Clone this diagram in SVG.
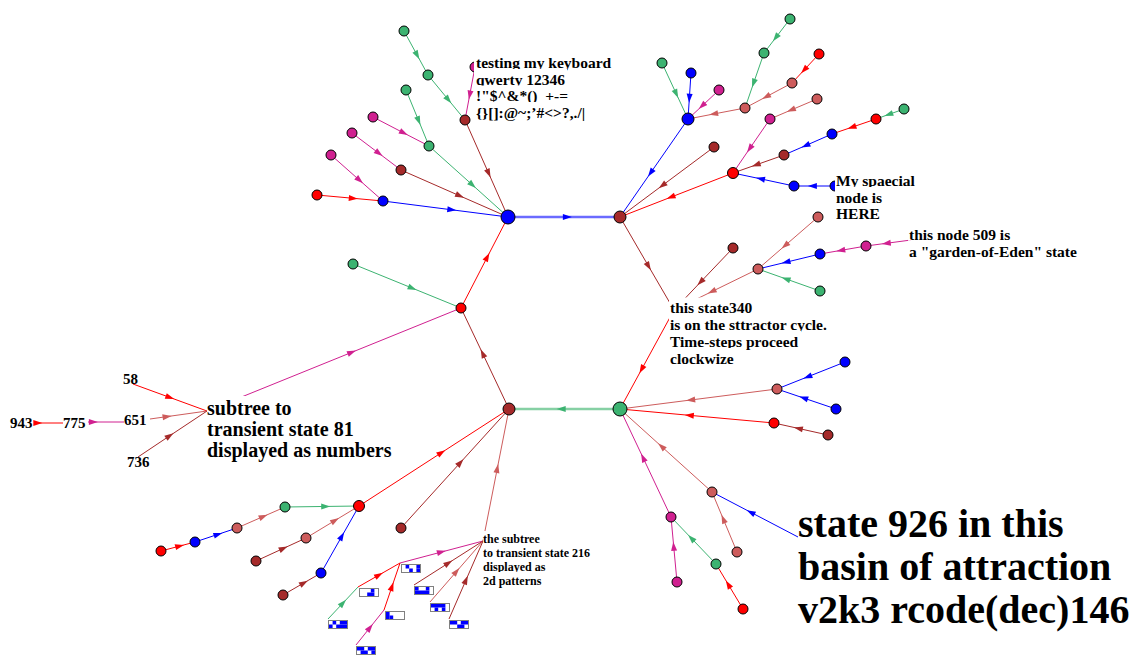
<svg xmlns="http://www.w3.org/2000/svg" width="1135" height="655" viewBox="0 0 1135 655">
<style>
.e{fill:none;stroke-width:1}
.cb{stroke:#0000ff;marker-mid:url(#mb)}
.cr{stroke:#ff0000;marker-mid:url(#mr)}
.cw{stroke:#a52a2a;marker-mid:url(#mw)}
.cg{stroke:#3cb371;marker-mid:url(#mg)}
.cp{stroke:#d02090;marker-mid:url(#mp)}
.ci{stroke:#cd5c5c;marker-mid:url(#mi)}
.hb{stroke:#6b6bff;stroke-width:2.5;marker-mid:url(#mb)}
.hg{stroke:#86d0a4;stroke-width:2.5;marker-mid:url(#mg)}
.n{stroke:#000;stroke-width:1}
.fb{fill:#0000ff}.fr{fill:#ff0000}.fw{fill:#a52a2a}.fg{fill:#3cb371}.fp{fill:#d02090}.fi{fill:#cd5c5c}
.t{font-family:"Liberation Serif","Times New Roman",serif;font-weight:bold;fill:#000}
.m{font-size:15.5px}.s{font-size:12px}.l{font-size:20px}.x{font-size:40px}.k{font-size:15px}
.bg{fill:#fff}
.pb{fill:#fff;stroke:#808080;stroke-width:1}
.pc{fill:#0000ff}
</style>
<defs>
<marker id="mb" viewBox="-5 -4 10 8" markerWidth="10" markerHeight="8" markerUnits="userSpaceOnUse" orient="auto"><path d="M-4.5,-3L4.5,0L-4.5,3z" fill="#0000ff"/></marker>
<marker id="mr" viewBox="-5 -4 10 8" markerWidth="10" markerHeight="8" markerUnits="userSpaceOnUse" orient="auto"><path d="M-4.5,-3L4.5,0L-4.5,3z" fill="#ff0000"/></marker>
<marker id="mw" viewBox="-5 -4 10 8" markerWidth="10" markerHeight="8" markerUnits="userSpaceOnUse" orient="auto"><path d="M-4.5,-3L4.5,0L-4.5,3z" fill="#a52a2a"/></marker>
<marker id="mg" viewBox="-5 -4 10 8" markerWidth="10" markerHeight="8" markerUnits="userSpaceOnUse" orient="auto"><path d="M-4.5,-3L4.5,0L-4.5,3z" fill="#3cb371"/></marker>
<marker id="mp" viewBox="-5 -4 10 8" markerWidth="10" markerHeight="8" markerUnits="userSpaceOnUse" orient="auto"><path d="M-4.5,-3L4.5,0L-4.5,3z" fill="#d02090"/></marker>
<marker id="mi" viewBox="-5 -4 10 8" markerWidth="10" markerHeight="8" markerUnits="userSpaceOnUse" orient="auto"><path d="M-4.5,-3L4.5,0L-4.5,3z" fill="#cd5c5c"/></marker>
</defs>
<rect width="1135" height="655" fill="#fff"/>
<g id="connectors">
<!-- attractor cycle -->
<path class="e hb" d="M508,217L567.4,217L620,217"/>
<path class="e cw" d="M620,217L648.6,266.3L674,310"/>
<path class="e cr" d="M674,310L641.6,369.4L620,409"/>
<path class="e hg" d="M620,409L561.2,409L509,409"/>
<path class="e cw" d="M509,409L482.6,353.4L461,308"/>
<path class="e cr" d="M461,308L487.3,257L508,217"/>
<!-- tree A -->
<path class="e cg" d="M404,31L417.2,55.2L428,75"/>
<path class="e cg" d="M428,75L448.4,99.8L465,120"/>
<path class="e cw" d="M465,120L488.7,173.4L508,217"/>
<path class="e cp" d="M475,67L469.7,95.1L465,120"/>
<path class="e cg" d="M406,90L418.7,120.8L429,146"/>
<path class="e cp" d="M373,117L403.8,133L429,146"/>
<path class="e cg" d="M429,146L472.5,185L508,217"/>
<path class="e cp" d="M352,133L379,153.4L401,170"/>
<path class="e cw" d="M401,170L459.9,195.9L508,217"/>
<path class="e cp" d="M331,155L359.6,180.3L383,201"/>
<path class="e cr" d="M317,195L353.3,198.3L383,201"/>
<path class="e cb" d="M383,201L451.8,209.8L508,217"/>
<!-- tree B -->
<path class="e cb" d="M688,119L650.6,172.9L620,217"/>
<path class="e cg" d="M662,63L676.3,93.8L688,119"/>
<path class="e cb" d="M691,73L689.35,98.3L688,119"/>
<path class="e cp" d="M719,90L702,106L688,119"/>
<path class="e ci" d="M745,108L713.6,114L688,119"/>
<path class="e cg" d="M790,19L775.7,37.7L764,53"/>
<path class="e cg" d="M764,53L753.5,83.3L745,108"/>
<path class="e cr" d="M819,54L804.1,70L792,83"/>
<path class="e ci" d="M792,83L766.1,96.8L745,108"/>
<path class="e cw" d="M714,147L662.3,185.5L620,217"/>
<path class="e cr" d="M733,173L670.8,197.2L620,217"/>
<path class="e cp" d="M770,119L749.6,148.7L733,173"/>
<path class="e ci" d="M817,99L791.1,110L770,119"/>
<path class="e cw" d="M784,155L756,164.9L733,173"/>
<path class="e cb" d="M832,134L805.6,145.6L784,155"/>
<path class="e cr" d="M876,119L851.8,127.25L832,134"/>
<path class="e cg" d="M904,109L888.6,114.5L876,119"/>
<path class="e cb" d="M794,186L760.4,178.8L733,173"/>
<path class="e cb" d="M835,186L812.4,186L794,186"/>
<!-- tree C -->
<path class="e ci" d="M818,217L785,245.6L758,269"/>
<path class="e ci" d="M758,269L711.8,291.6L674,310"/>
<path class="e cw" d="M733,248L700.5,282.1L674,310"/>
<path class="e cb" d="M820,254L785.9,262.25L758,269"/>
<path class="e cp" d="M866,246L840.7,250.4L820,254"/>
<path class="e cp" d="M911,240L886.25,243.3L866,246"/>
<path class="e cg" d="M820,291L785.9,278.9L758,269"/>
<!-- tree D -->
<path class="e ci" d="M777,389L690.65,400L620,409"/>
<path class="e cb" d="M845,362L807.6,376.85L777,389"/>
<path class="e cb" d="M836,409L803.55,398L777,389"/>
<path class="e cr" d="M774,423L689.3,415.3L620,409"/>
<path class="e cw" d="M828,435L798.3,428.4L774,423"/>
<path class="e ci" d="M712,492L661.4,446.35L620,409"/>
<path class="e cb" d="M798,537L750.7,512.25L712,492"/>
<path class="e ci" d="M737,552L723.25,519L712,492"/>
<path class="e cp" d="M671,517L643,457.6L620,409"/>
<path class="e cp" d="M677,582L673.7,546.25L671,517"/>
<path class="e cg" d="M716,564L691.25,538.15L671,517"/>
<path class="e cr" d="M743,609L728.15,584.25L716,564"/>
<!-- tree E -->
<path class="e cr" d="M359,506L441.5,452.65L509,409"/>
<path class="e cg" d="M285,507L325.7,506.45L359,506"/>
<path class="e ci" d="M237,528L263.4,516.45L285,507"/>
<path class="e cb" d="M195,542L218.1,534.3L237,528"/>
<path class="e cr" d="M161,551L179.7,546.05L195,542"/>
<path class="e ci" d="M306,538L335.15,520.4L359,506"/>
<path class="e cw" d="M256,561L283.5,548.35L306,538"/>
<path class="e cb" d="M321,573L341.9,536.15L359,506"/>
<path class="e cw" d="M283,595L303.9,582.9L321,573"/>
<path class="e cw" d="M401,528L460.4,462.55L509,409"/>
<path class="e ci" d="M483,541L497.3,468.4L509,409"/>
<!-- pattern subtree -->
<path class="e cp" d="M400,563L441.5,552L483,541"/>
<path class="e cr" d="M358,587L379,575L400,563"/>
<path class="e cg" d="M328,619L343,603L358,587"/>
<path class="e cr" d="M384,610L392,586.5L400,563"/>
<path class="e cp" d="M356,645L370,627.5L384,610"/>
<path class="e cw" d="M414,585L448.5,563L483,541"/>
<path class="e ci" d="M430,602L456.5,571.5L483,541"/>
<path class="e cw" d="M449,619L466,580L483,541"/>
<!-- tree F -->
<path class="e cg" d="M353,264L412.4,288.2L461,308"/>
<path class="e cp" d="M207,411L351.8,352.3L461,308"/>
<!-- numbers subtree -->
<path class="e cr" d="M133,384L170,397.5L207,411"/>
<path class="e ci" d="M150,419L167.1,416.6L207,411"/>
<path class="e cw" d="M138,457L169.7,435.8L207,411"/>
<path class="e cp" d="M88,422L93.4,422L124,422"/>
<path class="e cr" d="M35,423L37.8,423L63,423"/>
</g>
<!-- attractor nodes -->
<g id="n-A"><circle class="n fb" cx="508" cy="217" r="7"/></g>
<g id="n-B"><circle class="n fw" cx="620" cy="217" r="6"/></g>
<g id="n-D"><circle class="n fg" cx="620" cy="409" r="7"/></g>
<g id="n-E"><circle class="n fw" cx="509" cy="409" r="6"/></g>
<g id="n-F"><circle class="n fr" cx="461" cy="308" r="5"/></g>
<!-- tree A nodes -->
<g id="n-a1"><circle class="n fg" cx="404" cy="31" r="5"/></g>
<g id="n-a2"><circle class="n fg" cx="428" cy="75" r="5"/></g>
<g id="n-a3"><circle class="n fw" cx="465" cy="120" r="5"/></g>
<g id="n-a4"><circle class="n fp" cx="475" cy="67" r="5"/></g>
<g id="n-a5"><circle class="n fg" cx="406" cy="90" r="5"/></g>
<g id="n-a6"><circle class="n fg" cx="429" cy="146" r="5"/></g>
<g id="n-a7"><circle class="n fp" cx="373" cy="117" r="5"/></g>
<g id="n-a8"><circle class="n fp" cx="352" cy="133" r="5"/></g>
<g id="n-a9"><circle class="n fw" cx="401" cy="170" r="5"/></g>
<g id="n-a10"><circle class="n fp" cx="331" cy="155" r="5"/></g>
<g id="n-a11"><circle class="n fr" cx="317" cy="195" r="5"/></g>
<g id="n-a12"><circle class="n fb" cx="383" cy="201" r="5"/></g>
<!-- tree B nodes -->
<g id="n-b1"><circle class="n fb" cx="688" cy="119" r="6"/></g>
<g id="n-b2"><circle class="n fg" cx="662" cy="63" r="5"/></g>
<g id="n-b3"><circle class="n fb" cx="691" cy="73" r="5"/></g>
<g id="n-b4"><circle class="n fp" cx="719" cy="90" r="5"/></g>
<g id="n-b5"><circle class="n fi" cx="745" cy="108" r="5"/></g>
<g id="n-b6"><circle class="n fg" cx="790" cy="19" r="5"/></g>
<g id="n-b7"><circle class="n fg" cx="764" cy="53" r="5"/></g>
<g id="n-b8"><circle class="n fr" cx="819" cy="54" r="5"/></g>
<g id="n-b9"><circle class="n fi" cx="792" cy="83" r="5"/></g>
<g id="n-b10"><circle class="n fw" cx="714" cy="147" r="5"/></g>
<g id="n-b11"><circle class="n fr" cx="733" cy="173" r="5.5"/></g>
<g id="n-b12"><circle class="n fp" cx="770" cy="119" r="5"/></g>
<g id="n-b13"><circle class="n fi" cx="817" cy="99" r="5"/></g>
<g id="n-b14"><circle class="n fw" cx="784" cy="155" r="5"/></g>
<g id="n-b15"><circle class="n fb" cx="832" cy="134" r="5"/></g>
<g id="n-b16"><circle class="n fr" cx="876" cy="119" r="5"/></g>
<g id="n-b17"><circle class="n fg" cx="904" cy="109" r="5"/></g>
<g id="n-b18"><circle class="n fb" cx="794" cy="186" r="5"/></g>
<g id="n-b19"><circle class="n fb" cx="835" cy="186" r="5"/></g>
<!-- tree C nodes -->
<g id="n-c1"><circle class="n fi" cx="818" cy="217" r="5"/></g>
<g id="n-c2"><circle class="n fi" cx="758" cy="269" r="5"/></g>
<g id="n-c3"><circle class="n fw" cx="733" cy="248" r="5"/></g>
<g id="n-c4"><circle class="n fb" cx="820" cy="254" r="5"/></g>
<g id="n-c5"><circle class="n fp" cx="866" cy="246" r="5"/></g>
<g id="n-c7"><circle class="n fg" cx="820" cy="291" r="5"/></g>
<!-- tree D nodes -->
<g id="n-d1"><circle class="n fi" cx="777" cy="389" r="5"/></g>
<g id="n-d2"><circle class="n fb" cx="845" cy="362" r="5"/></g>
<g id="n-d3"><circle class="n fb" cx="836" cy="409" r="5"/></g>
<g id="n-d4"><circle class="n fr" cx="774" cy="423" r="5"/></g>
<g id="n-d5"><circle class="n fw" cx="828" cy="435" r="5"/></g>
<g id="n-d6"><circle class="n fi" cx="712" cy="492" r="5"/></g>
<g id="n-d8"><circle class="n fi" cx="737" cy="552" r="5"/></g>
<g id="n-d9"><circle class="n fp" cx="671" cy="517" r="5"/></g>
<g id="n-d10"><circle class="n fp" cx="677" cy="582" r="5"/></g>
<g id="n-d11"><circle class="n fg" cx="716" cy="564" r="5"/></g>
<g id="n-d12"><circle class="n fr" cx="743" cy="609" r="5"/></g>
<!-- tree E nodes -->
<g id="n-e1"><circle class="n fr" cx="359" cy="506" r="5.5"/></g>
<g id="n-e2"><circle class="n fg" cx="285" cy="507" r="5"/></g>
<g id="n-e3"><circle class="n fi" cx="237" cy="528" r="5"/></g>
<g id="n-e4"><circle class="n fb" cx="195" cy="542" r="5"/></g>
<g id="n-e5"><circle class="n fr" cx="161" cy="551" r="5"/></g>
<g id="n-e6"><circle class="n fi" cx="306" cy="538" r="5"/></g>
<g id="n-e7"><circle class="n fw" cx="256" cy="561" r="5"/></g>
<g id="n-e8"><circle class="n fb" cx="321" cy="573" r="5"/></g>
<g id="n-e9"><circle class="n fw" cx="283" cy="595" r="5"/></g>
<g id="n-e10"><circle class="n fw" cx="401" cy="528" r="5"/></g>
<!-- tree F nodes -->
<g id="n-f1"><circle class="n fg" cx="353" cy="264" r="5"/></g>
<!-- 2d pattern nodes -->
<g id="n-p1" transform="translate(401,564)"><rect class="pb" x="0.5" y="0.5" width="19" height="8"/><rect class="pc" x="4.6" y="1" width="3.6" height="3.5"/><rect class="pc" x="15.4" y="1" width="3.6" height="3.5"/><rect class="pc" x="8.2" y="4.5" width="3.6" height="3.5"/><rect class="pc" x="15.4" y="4.5" width="3.6" height="3.5"/></g>
<g id="n-p2" transform="translate(359,588)"><rect class="pb" x="0.5" y="0.5" width="19" height="8"/><rect class="pc" x="11.8" y="1" width="3.6" height="3.5"/><rect class="pc" x="8.2" y="4.5" width="7.2" height="3.5"/></g>
<g id="n-p3" transform="translate(328,620)"><rect class="pb" x="0.5" y="0.5" width="19" height="8"/><rect class="pc" x="4.6" y="1" width="3.6" height="3.5"/><rect class="pc" x="11.8" y="1" width="7.2" height="3.5"/><rect class="pc" x="1" y="4.5" width="3.6" height="3.5"/><rect class="pc" x="8.2" y="4.5" width="10.8" height="3.5"/></g>
<g id="n-p4" transform="translate(385,611)"><rect class="pb" x="0.5" y="0.5" width="19" height="8"/><rect class="pc" x="1" y="1" width="3.6" height="7"/><rect class="pc" x="4.6" y="4.5" width="3.6" height="3.5"/></g>
<g id="n-p5" transform="translate(356,646)"><rect class="pb" x="0.5" y="0.5" width="19" height="8"/><rect class="pc" x="1" y="1" width="7.2" height="3.5"/><rect class="pc" x="11.8" y="1" width="7.2" height="3.5"/><rect class="pc" x="4.6" y="4.5" width="7.2" height="3.5"/><rect class="pc" x="15.4" y="4.5" width="3.6" height="3.5"/></g>
<g id="n-p6" transform="translate(414,586)"><rect class="pb" x="0.5" y="0.5" width="19" height="8"/><rect class="pc" x="1" y="1" width="3.6" height="3.5"/><rect class="pc" x="11.8" y="1" width="3.6" height="3.5"/><rect class="pc" x="1" y="4.5" width="14.4" height="3.5"/></g>
<g id="n-p7" transform="translate(430,603)"><rect class="pb" x="0.5" y="0.5" width="19" height="8"/><rect class="pc" x="1" y="1" width="14.4" height="3.5"/><rect class="pc" x="4.6" y="4.5" width="3.6" height="3.5"/><rect class="pc" x="11.8" y="4.5" width="3.6" height="3.5"/></g>
<g id="n-p8" transform="translate(449,620)"><rect class="pb" x="0.5" y="0.5" width="19" height="8"/><rect class="pc" x="1" y="1" width="7.2" height="3.5"/><rect class="pc" x="11.8" y="1" width="7.2" height="3.5"/><rect class="pc" x="8.2" y="4.5" width="7.2" height="3.5"/></g>
<!-- number nodes -->
<g id="n-58"><text class="t k" x="123" y="384">58</text></g>
<g id="n-651"><text class="t k" x="124" y="425">651</text></g>
<g id="n-736"><text class="t k" x="127" y="467">736</text></g>
<g id="n-775"><text class="t k" x="63" y="428">775</text></g>
<g id="n-943"><text class="t k" x="10" y="428">943</text></g>
<!-- labelled nodes -->
<g id="label-keyboard">
<rect class="bg" x="474" y="52.5" width="139" height="16.5"/><text class="t m" x="476" y="68">testing my keyboard</text>
<rect class="bg" x="474" y="69" width="93" height="16.5"/><text class="t m" x="476" y="84.5">qwerty 12346</text>
<rect class="bg" x="474" y="85.5" width="104" height="16.5"/><text class="t m" x="476" y="101">!"$^&amp;*()_+-=</text>
<rect class="bg" x="474" y="102" width="113" height="19.5"/><text class="t m" x="476" y="117.5">{}[]:@~;’#&lt;&gt;?,./|</text>
</g>
<g id="label-special">
<rect class="bg" x="835" y="170.5" width="82" height="16.5"/><text class="t m" x="836" y="186">My spaecial</text>
<rect class="bg" x="835" y="187" width="49" height="16.5"/><text class="t m" x="836" y="202.5">node is</text>
<rect class="bg" x="835" y="203.5" width="47" height="19.5"/><text class="t m" x="836" y="219">HERE</text>
</g>
<g id="n-509">
<rect class="bg" x="908" y="224" width="104" height="16.5"/><text class="t m" x="909" y="239.5">this node 509 is</text>
<rect class="bg" x="908" y="240.5" width="172" height="20"/><text class="t m" x="909" y="257">a "garden-of-Eden" state</text>
</g>
<g id="n-340">
<rect class="bg" x="669" y="297.5" width="85" height="16.5"/><text class="t m" x="670" y="313">this state340</text>
<rect class="bg" x="669" y="314" width="161" height="17"/><text class="t m" x="670" y="330">is on the sttractor cycle.</text>
<rect class="bg" x="669" y="331" width="132" height="17"/><text class="t m" x="670" y="347">Time-steps proceed</text>
<rect class="bg" x="669" y="348" width="67" height="20"/><text class="t m" x="670" y="364">clockwize</text>
</g>
<g id="n-81">
<rect class="bg" x="207" y="396" width="87" height="21"/><text class="t l" x="207" y="415">subtree to</text>
<rect class="bg" x="207" y="417" width="149" height="21"/><text class="t l" x="207" y="436">transient state 81</text>
<rect class="bg" x="207" y="438" width="187" height="24"/><text class="t l" x="207" y="457">displayed as numbers</text>
</g>
<g id="n-216">
<rect class="bg" x="483" y="531" width="59" height="13"/><text class="t s" x="483" y="543">the subtree</text>
<rect class="bg" x="483" y="544" width="109" height="14"/><text class="t s" x="483" y="557">to transient state 216</text>
<rect class="bg" x="483" y="558" width="64" height="14"/><text class="t s" x="483" y="571">displayed as</text>
<rect class="bg" x="483" y="572" width="60" height="17"/><text class="t s" x="483" y="585">2d patterns</text>
</g>
<g id="n-926">
<rect class="bg" x="798" y="500" width="268" height="43"/><text class="t x" x="798" y="537">state 926 in this</text>
<rect class="bg" x="798" y="543" width="315" height="43"/><text class="t x" x="798" y="580">basin of attraction</text>
<rect class="bg" x="798" y="586" width="335" height="50"/><text class="t x" x="798" y="623">v2k3 rcode(dec)146</text>
</g>
</svg>
